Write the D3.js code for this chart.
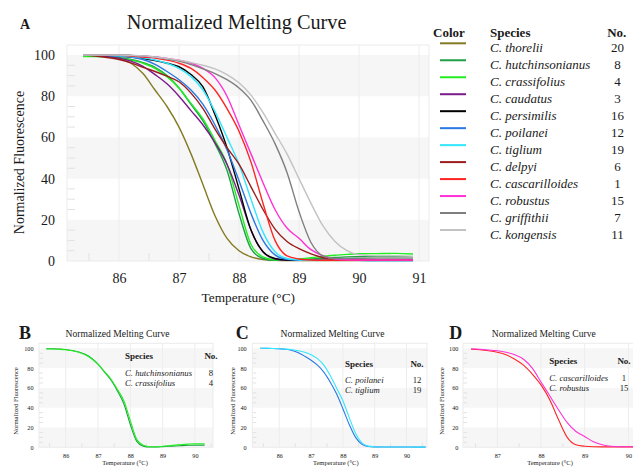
<!DOCTYPE html>
<html>
<head>
<meta charset="utf-8">
<script src="https://cdn.jsdelivr.net/npm/d3@7"></script>
<style>
  body { margin: 0; background: #fff; }
  svg { display: block; }
  text { font-family: "Liberation Serif", "Times New Roman", serif; fill: #1a1a1a; }
</style>
</head>
<body>
<script>
// melting curve readings, temperature in °C, fluorescence normalised 0-100
const temps = [85.4, 85.6, 85.8, 86.0, 86.2, 86.4, 86.6, 86.8, 87.0, 87.2, 87.4, 87.6, 87.8, 88.0,
               88.2, 88.4, 88.6, 88.8, 89.0, 89.2, 89.4, 89.6, 89.8, 90.0, 90.3, 90.6, 90.9];

const thorelii        = [100, 99.8, 99.3, 98.3, 96, 91, 83, 75, 65, 52, 37, 22, 11, 5, 2, 0.7, 0.3, 0.2, 0.2, 0.2, 0.2, 0.2, 0.2, 0.2, 0.2, 0.2, 0.2];
const hutchinsonianus = [99.6, 99.6, 99.3, 98.8, 97.8, 96.3, 94, 90, 84, 76, 68, 57, 44, 23, 6, 1.2, 0.3, 0.3, 0.6, 1, 1.3, 1.7, 2, 2.1, 2.2, 2.2, 2.1];
const crassifolius    = [99.3, 99.3, 99, 98.5, 97.5, 96, 93.5, 89.5, 84, 76.5, 69, 58.5, 47, 27, 8, 2, 0.6, 0.6, 1, 1.6, 2.2, 2.8, 3.2, 3.5, 3.6, 3.7, 3.4];
const caudatus        = [100, 99.8, 99.3, 98.5, 97, 94.5, 90.5, 86, 80, 73, 66, 57.5, 47, 32, 15, 4.5, 1, 0.4, 0.3, 0.3, 0.3, 0.3, 0.3, 0.3, 0.3, 0.3, 0.3];
const persimilis      = [100, 100, 99.8, 99.5, 99, 98.3, 97.3, 96, 94.3, 90.5, 84.5, 71, 55, 35, 15, 4.5, 1.2, 0.5, 0.4, 0.4, 0.4, 0.4, 0.4, 0.4, 0.4, 0.4, 0.4];
const poilanei        = [100, 100, 99.8, 99.5, 99, 97.8, 95.5, 92, 88, 83, 76, 66, 54, 39, 23, 10, 3, 0.8, 0.4, 0.3, 0.3, 0.3, 0.3, 0.3, 0.2, 0.2, 0.2];
const tiglium         = [100, 100, 99.8, 99.6, 99.2, 98.6, 97.6, 96, 93.5, 89.5, 83, 72.5, 60, 47, 30, 14, 4.5, 1.2, 0.5, 0.3, 0.3, 0.3, 0.3, 0.3, 0.2, 0.2, 0.2];
const delpyi          = [100, 99.5, 98.8, 97.8, 96.2, 94, 92, 89.7, 87, 81.5, 74, 64, 55, 47, 36, 25, 15.5, 9.5, 6, 3.5, 1.6, 0.8, 0.5, 0.4, 0.4, 0.4, 0.4];
const cascarilloides  = [100, 100, 99.9, 99.8, 99.5, 99, 98.5, 97.5, 96, 93.5, 89, 83, 74, 63, 48, 28, 10, 2.5, 1, 0.5, 0.4, 0.4, 0.4, 0.4, 0.4, 0.4, 0.4];
const robustus        = [100, 100, 100, 100, 99.8, 99.5, 99, 98.3, 97.5, 96, 93.5, 89, 80, 66, 52, 38, 25, 16, 11, 5.5, 2.5, 1, 0.6, 0.5, 0.5, 0.5, 0.5];
const griffithii      = [100, 100, 100, 100, 99.8, 99.5, 99, 98, 97, 95.3, 93.3, 91, 88, 84, 78, 68, 57, 43, 24, 9, 2.5, 1.2, 1.2, 1.3, 1.4, 1.4, 1.4];
const kongensis       = [100, 100, 100, 100, 99.8, 99.6, 99, 98.3, 97.5, 96.3, 95, 93.3, 90.5, 86.5, 80.5, 72, 62, 52, 40, 28, 17, 9.5, 5, 3, 2.5, 2.5, 2.3];

const species = ["C. thorelii", "C. hutchinsonianus", "C. crassifolius", "C. caudatus", "C. persimilis", "C. poilanei",
                 "C. tiglium", "C. delpyi", "C. cascarilloides", "C. robustus", "C. griffithii", "C. kongensis"];
const counts  = [20, 8, 4, 3, 16, 12, 19, 6, 1, 15, 7, 11];
const colors  = ["#857a24", "#1e9e45", "#22ee22", "#7b1a8c", "#000000", "#2a78e4",
                 "#33e6ff", "#9b1c1c", "#ff2424", "#ff30d6", "#7f7f7f", "#c2c2c2"];
const curves  = [thorelii, hutchinsonianus, crassifolius, caudatus, persimilis, poilanei,
                 tiglium, delpyi, cascarilloides, robustus, griffithii, kongensis];

const yTicks = [0, 20, 40, 60, 80, 100];
const bands = [[80, 100], [40, 60], [0, 20]];
const mainXTicks = [86, 87, 88, 89, 90, 91];
const smallXTicks = [86, 87, 88, 89, 90];
const dXTicks = [87, 88, 89, 90];

const serif = '"Liberation Serif", "Times New Roman", serif';
const width = 633, height = 467;
const svg = d3.select("body").append("svg").attr("width", width).attr("height", height);

let clipId = 0;
function panel(o) {
  const x = d3.scaleLinear().domain(o.dom).range([o.left, o.right]);
  const y = d3.scaleLinear().domain([0, 100]).range([o.bottom, o.y100]);
  const g = svg.append("g");

  g.selectAll("rect.band").data(bands).join("rect")
    .attr("x", o.left).attr("width", o.right - o.left)
    .attr("y", d => y(d[1])).attr("height", d => y(d[0]) - y(d[1]))
    .attr("fill", "#f6f6f6");

  g.selectAll("line.vg").data(o.xTicks).join("line")
    .attr("x1", d => x(d)).attr("x2", d => x(d))
    .attr("y1", o.top).attr("y2", o.bottom)
    .attr("stroke", "#ededed").attr("stroke-width", 1);

  const minorY = d3.range(5, 100, 5).filter(v => v % 20 !== 0);
  g.selectAll("line.my").data(minorY).join("line")
    .attr("x1", o.left).attr("x2", o.left + o.minor)
    .attr("y1", d => y(d)).attr("y2", d => y(d))
    .attr("stroke", "#e2e2e2");

  const minorX = d3.range(Math.ceil(o.dom[0]) - 0.5, o.dom[1], 1).filter(v => v > o.dom[0]);
  g.selectAll("line.mx").data(minorX).join("line")
    .attr("x1", d => x(d)).attr("x2", d => x(d))
    .attr("y1", o.bottom).attr("y2", o.bottom - o.minor)
    .attr("stroke", "#e2e2e2");

  g.append("rect")
    .attr("x", o.left).attr("y", o.top)
    .attr("width", o.right - o.left).attr("height", o.bottom - o.top)
    .attr("fill", "none").attr("stroke", "#ebebeb");

  const id = "clip" + (clipId++);
  svg.append("clipPath").attr("id", id).append("rect")
    .attr("x", o.left).attr("y", o.top - 2)
    .attr("width", o.right - o.left).attr("height", o.bottom - o.top + 4);

  const line = d3.line()
    .x(d => x(d[0])).y(d => y(d[1]))
    .curve(d3.curveMonotoneX);

  g.append("g").attr("clip-path", `url(#${id})`)
    .selectAll("path").data(o.series).join("path")
    .attr("d", i => line(temps.map((t, k) => [t, curves[i][k]])
                        .filter(p => p[0] >= o.tmin && p[0] <= o.tmax)))
    .attr("fill", "none")
    .attr("stroke", i => colors[i])
    .attr("stroke-width", o.lw)
    .attr("stroke-linejoin", "round");

  const ya = g.append("g").attr("transform", `translate(${o.left},0)`)
    .call(d3.axisLeft(y).tickValues(yTicks).tickSize(0).tickPadding(o.ypad));
  ya.select(".domain").remove();
  ya.selectAll("text").style("font-size", o.tickFont + "px").style("font-family", serif).style("fill", "#1a1a1a");

  const xa = g.append("g").attr("transform", `translate(0,${o.bottom})`)
    .call(d3.axisBottom(x).tickValues(o.xTicks).tickSize(0).tickPadding(o.xpad).tickFormat(d3.format("d")));
  xa.select(".domain").remove();
  xa.selectAll("text").style("font-size", o.tickFont + "px").style("font-family", serif).style("fill", "#1a1a1a");

  return { x, y, g };
}

// ---- panel A ----
panel({
  left: 67, right: 429, top: 45, bottom: 261, y100: 55,
  dom: [85.1333, 91.1667], xTicks: mainXTicks,
  tmin: 85, tmax: 91, series: d3.range(12), lw: 1.4,
  minor: 8, ypad: 12, xpad: 12.5, tickFont: 14
});

svg.append("text").attr("x", 20).attr("y", 29).attr("font-size", 14).attr("font-weight", "bold").text("A");
svg.append("text").attr("x", 236.7).attr("y", 28.5).attr("text-anchor", "middle").attr("font-size", 20.3)
  .text("Normalized Melting Curve");
svg.append("text").attr("transform", "translate(24,162.5) rotate(-90)").attr("text-anchor", "middle")
  .attr("font-size", 14).text("Normalized Fluorescence");
svg.append("text").attr("x", 248.3).attr("y", 301.5).attr("text-anchor", "middle").attr("font-size", 13.3)
  .text("Temperature (°C)");

// legend for A
const leg = svg.append("g");
leg.append("text").attr("x", 433).attr("y", 36.7).attr("font-size", 13).attr("font-weight", "bold").text("Color");
leg.append("text").attr("x", 490).attr("y", 36.7).attr("font-size", 13).attr("font-weight", "bold").text("Species");
leg.append("text").attr("x", 616.7).attr("y", 36.7).attr("text-anchor", "middle").attr("font-size", 13).attr("font-weight", "bold").text("No.");
const rowY = d3.scaleLinear().domain([0, 11]).range([52.3, 239]);
leg.selectAll("line.lg").data(d3.range(12)).join("line")
  .attr("x1", 440).attr("x2", 466)
  .attr("y1", i => rowY(i) - 9).attr("y2", i => rowY(i) - 9)
  .attr("stroke", i => colors[i]).attr("stroke-width", 2);
leg.selectAll("text.sp").data(d3.range(12)).join("text")
  .attr("x", 490).attr("y", i => rowY(i)).attr("font-size", 13).attr("font-style", "italic")
  .text(i => species[i]);
leg.selectAll("text.no").data(d3.range(12)).join("text")
  .attr("x", 617.5).attr("y", i => rowY(i)).attr("text-anchor", "middle").attr("font-size", 13)
  .text(i => counts[i]);

// ---- small panels B, C, D ----
const small = [
  { letter: "B", lx: 19, tx: 117.5, ytx: 18, xtx: 125, series: [1, 2],
    left: 39, right: 213, dom: [85.173, 90.56], xTicks: smallXTicks, tmin: 85, tmax: 90.3, ypad: 5.5,
    sx: 125, nx: 211, sy: 359 },
  { letter: "C", lx: 235.7, tx: 332.5, ytx: 234.5, xtx: 335.8, series: [5, 6],
    left: 252.3, right: 427, dom: [85.151, 90.645], xTicks: smallXTicks, tmin: 85, tmax: 90.6, ypad: 5.6,
    sx: 345, nx: 417, sy: 366.5 },
  { letter: "D", lx: 449.3, tx: 543.8, ytx: 444, xtx: 550, series: [8, 9],
    left: 463, right: 640, dom: [86.215, 90.265], xTicks: dXTicks, tmin: 86.4, tmax: 91, ypad: 4.7,
    sx: 549.3, nx: 624, sy: 364 }
];

small.forEach(p => {
  panel({
    left: p.left, right: p.right, top: 343.3, bottom: 447.3, y100: 348.3,
    dom: p.dom, xTicks: p.xTicks, tmin: p.tmin, tmax: p.tmax, series: p.series, lw: 1.1,
    minor: 4, ypad: p.ypad, xpad: 6, tickFont: 6.2
  });
  svg.append("text").attr("x", p.lx).attr("y", 339.3).attr("font-size", 18).attr("font-weight", "bold").text(p.letter);
  svg.append("text").attr("x", p.tx).attr("y", 337).attr("text-anchor", "middle").attr("font-size", 9.6)
    .text("Normalized Melting Curve");
  svg.append("text").attr("transform", `translate(${p.ytx},401) rotate(-90)`).attr("text-anchor", "middle")
    .attr("font-size", 6.6).text("Normalized Fluorescence");
  svg.append("text").attr("x", p.xtx).attr("y", 465).attr("text-anchor", "middle").attr("font-size", 6.5)
    .text("Temperature (°C)");
  svg.append("text").attr("x", p.sx).attr("y", p.sy).attr("font-size", 9).attr("font-weight", "bold").text("Species");
  svg.append("text").attr("x", p.nx).attr("y", p.sy).attr("text-anchor", "middle").attr("font-size", 9).attr("font-weight", "bold").text("No.");
  p.series.forEach((i, k) => {
    svg.append("text").attr("x", p.sx).attr("y", p.sy + 16.5 + k * 10).attr("font-size", 8.7)
      .attr("font-style", "italic").text(species[i]);
    svg.append("text").attr("x", p.nx).attr("y", p.sy + 16.5 + k * 10).attr("text-anchor", "middle")
      .attr("font-size", 8.7).text(counts[i]);
  });
});
</script>
</body>
</html>
